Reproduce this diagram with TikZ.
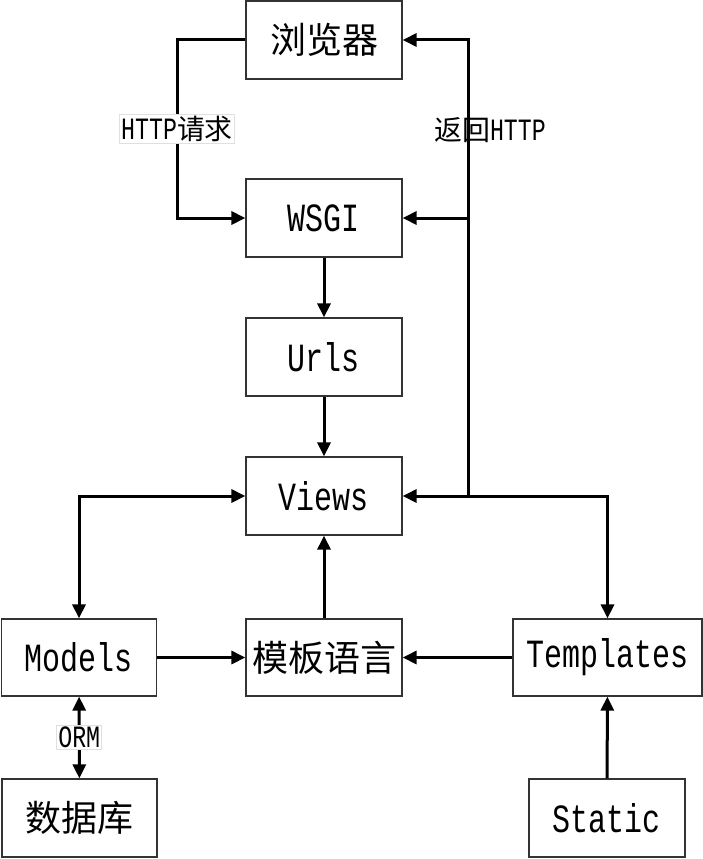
\documentclass[tikz,border=0pt]{standalone}
\usepackage{fontspec}
\setmainfont[FakeStretch=0.75]{Liberation Mono}
\newfontfamily\cjk[Scale=0.9]{Noto Sans CJK SC}
\usetikzlibrary{arrows.meta}

\begin{document}
\begin{tikzpicture}[x=1pt, y=-1pt,
  box/.style={draw=black!80, line width=1.2pt, fill=white, minimum width=156pt, minimum height=78pt, inner sep=0pt, font=\fontsize{40}{44}\selectfont},
  flow/.style={-{Triangle[length=14pt,width=13pt]}, line width=3pt},
  both/.style={{Triangle[length=14pt,width=13pt]}-{Triangle[length=14pt,width=13pt]}, line width=3pt},
  tag/.style={font=\fontsize{31}{34}\selectfont, inner sep=1.5pt, fill=white, draw=black!12, line width=0.8pt}
]
\useasboundingbox[fill=white] (0,0) rectangle (703,859);

% Request chain
\node[box] (browser) at (324,40) {\cjk 浏览器};
\node[box] (wsgi) at (324,218) {WSGI};
\node[box] (urls) at (324,357) {Urls};
\node[box] (views) at (324,496) {Views};

% Bottom row
\node[box, minimum width=155pt, minimum height=77pt] (models) at (79,657.5) {Models};
\node[box, minimum height=77pt] (tpllang) at (324,657.5) {\cjk 模板语言};
\node[box, minimum width=189pt, minimum height=77pt] (templates) at (607.5,657.5) {Templates};
\node[box, minimum width=155pt] (db) at (79.5,818) {\cjk 数据库};
\node[box] (static) at (607,818) {Static};

% Browser -> WSGI
\coordinate (reqx) at (177,40);
\draw[flow] (browser.west) -- (reqx) |- node[pos=0.25, tag] {HTTP{\cjk 请求}} (wsgi.west);

% Return path
\coordinate (retj) at (468,496);
\draw[flow] (retj) |- (browser.east);
\draw[flow] (retj |- wsgi.east) -- (wsgi.east);
\node[font=\fontsize{31}{34}\selectfont] (retlbl) at (490,130) {{\cjk 返回}HTTP};

% Main flow
\draw[flow] (wsgi) -- (urls);
\draw[flow] (urls) -- (views);
\draw[both] (views.west) -| (models.north);
\draw[both] (views.east) -| (templates.north);
\draw[flow] (tpllang) -- (views);
\draw[flow] (models) -- (tpllang);
\draw[flow] (templates) -- (tpllang);
\draw[flow] (static) -- (templates);

% ORM
\draw[both] (models) -- node[tag] {ORM} (db);
\end{tikzpicture}
\end{document}
